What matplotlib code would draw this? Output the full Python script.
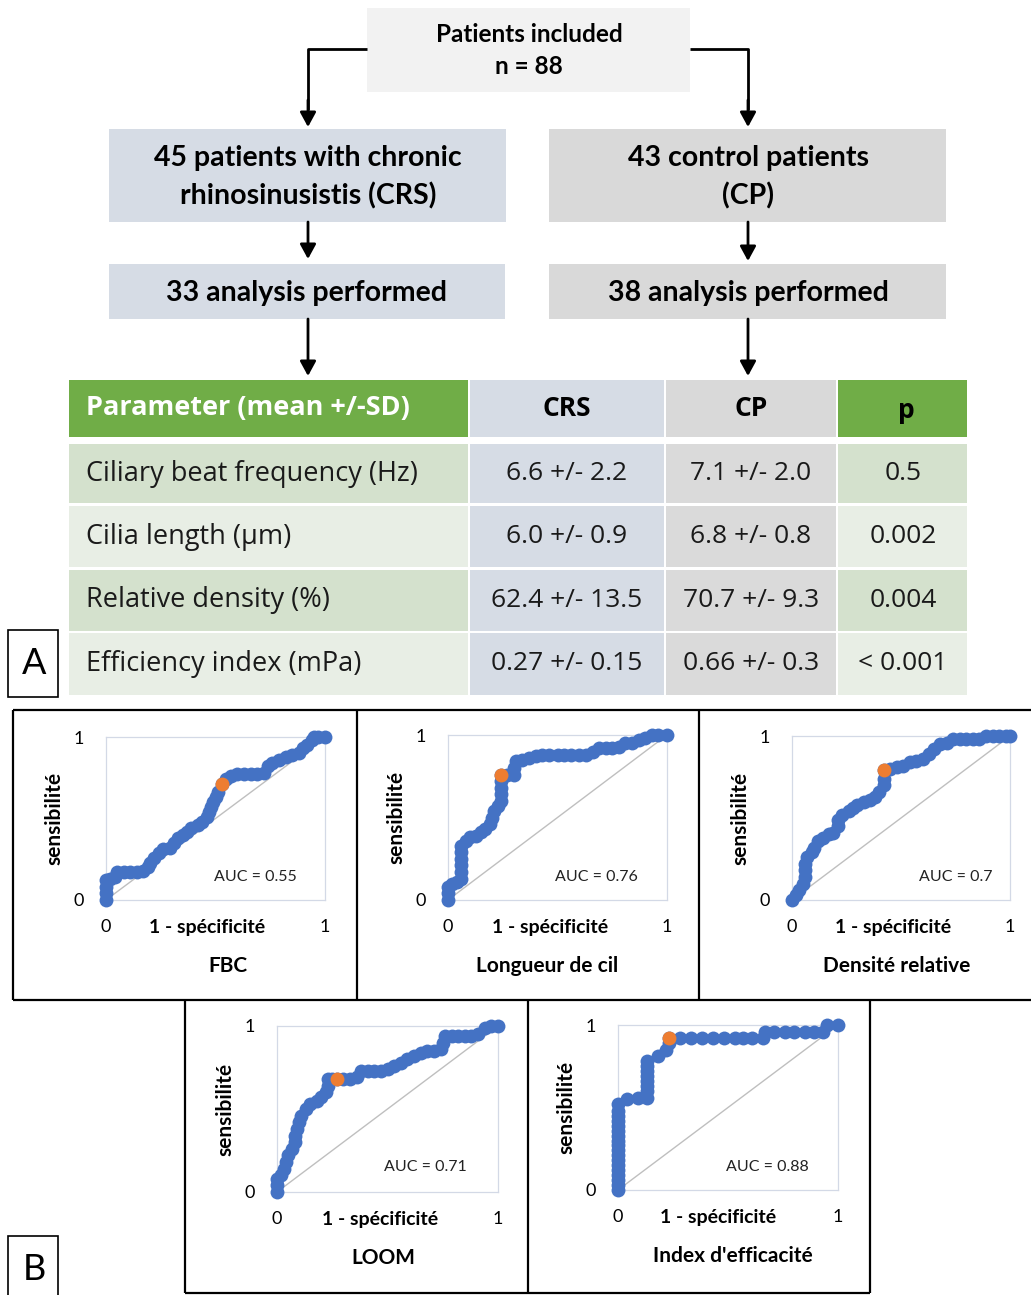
import matplotlib
matplotlib.use("Agg")
import matplotlib.pyplot as plt
from matplotlib.patches import Rectangle, FancyArrowPatch
from matplotlib.lines import Line2D

# ---------------- data ----------------
flow_top = ["Patients included", "n = 88"]
flow_groups = ["45 patients with chronic\nrhinosinusistis (CRS)", "43 control patients\n(CP)"]
flow_analysis = ["33 analysis performed", "38 analysis performed"]

table_header = ["Parameter (mean +/-SD)", "CRS", "CP", "p"]
table_params = ["Ciliary beat frequency (Hz)", "Cilia length (\u00b5m)",
                "Relative density (%)", "Efficiency index (mPa)"]
table_crs = ["6.6 +/- 2.2", "6.0 +/- 0.9", "62.4 +/- 13.5", "0.27 +/- 0.15"]
table_cp = ["7.1 +/- 2.0", "6.8 +/- 0.8", "70.7 +/- 9.3", "0.66 +/- 0.3"]
table_p = ["0.5", "0.002", "0.004", "< 0.001"]

roc_titles = ["FBC", "Longueur de cil", "Densit\u00e9 relative", "LOOM", "Index d'efficacit\u00e9"]
roc_auc = ["AUC = 0.55", "AUC = 0.76", "AUC = 0.7", "AUC = 0.71", "AUC = 0.88"]

fbc_fpr = [0, 0, 0, 0, 0.02, 0.04, 0.05, 0.08, 0.11, 0.14, 0.17, 0.19, 0.2, 0.22, 0.24, 0.26, 0.29,
           0.31, 0.33, 0.35, 0.37, 0.39, 0.42, 0.44, 0.46, 0.47, 0.48, 0.49, 0.5, 0.51, 0.53, 0.55,
           0.57, 0.6, 0.63, 0.66, 0.69, 0.72, 0.74, 0.76, 0.79, 0.82, 0.85, 0.88, 0.9, 0.92, 0.94,
           0.95, 0.97, 1.0]
fbc_tpr = [0, 0.04, 0.08, 0.12, 0.13, 0.14, 0.17, 0.17, 0.17, 0.17, 0.18, 0.2, 0.23, 0.26, 0.29,
           0.31, 0.32, 0.35, 0.38, 0.4, 0.42, 0.44, 0.46, 0.48, 0.51, 0.54, 0.57, 0.6, 0.63, 0.66,
           0.71, 0.74, 0.76, 0.77, 0.77, 0.77, 0.77, 0.78, 0.82, 0.84, 0.86, 0.88, 0.89, 0.9, 0.93,
           0.95, 0.98, 1.0, 1.0, 1.0]

lc_fpr = [0, 0, 0, 0.02, 0.04, 0.06, 0.06, 0.06, 0.06, 0.06, 0.06, 0.08, 0.1, 0.13, 0.15, 0.17,
          0.19, 0.2, 0.21, 0.23, 0.24, 0.24, 0.24, 0.24, 0.24, 0.27, 0.3, 0.3, 0.31, 0.34, 0.37,
          0.4, 0.43, 0.46, 0.5, 0.53, 0.56, 0.6, 0.63, 0.66, 0.69, 0.72, 0.75, 0.78, 0.81, 0.84,
          0.87, 0.9, 0.93, 0.96, 1.0]
lc_tpr = [0, 0.04, 0.08, 0.1, 0.11, 0.13, 0.17, 0.21, 0.25, 0.29, 0.33, 0.36, 0.38, 0.39, 0.41,
          0.43, 0.46, 0.5, 0.54, 0.57, 0.6, 0.64, 0.68, 0.72, 0.76, 0.76, 0.76, 0.8, 0.84, 0.85,
          0.86, 0.87, 0.88, 0.88, 0.88, 0.88, 0.88, 0.88, 0.88, 0.9, 0.92, 0.92, 0.92, 0.93, 0.95,
          0.95, 0.97, 0.98, 1.0, 1.0, 1.0]

dr_fpr = [0, 0.02, 0.03, 0.05, 0.06, 0.06, 0.06, 0.07, 0.09, 0.1, 0.12, 0.14, 0.17, 0.19, 0.21,
          0.21, 0.23, 0.26, 0.28, 0.3, 0.33, 0.36, 0.38, 0.4, 0.42, 0.42, 0.42, 0.45, 0.48, 0.51,
          0.54, 0.57, 0.6, 0.63, 0.65, 0.68, 0.71, 0.74, 0.77, 0.8, 0.83, 0.86, 0.89, 0.92, 0.95,
          0.98, 1.0]
dr_tpr = [0, 0.03, 0.06, 0.1, 0.14, 0.18, 0.22, 0.26, 0.29, 0.32, 0.36, 0.38, 0.4, 0.41, 0.45,
          0.49, 0.52, 0.54, 0.56, 0.58, 0.6, 0.61, 0.63, 0.66, 0.7, 0.74, 0.79, 0.8, 0.81, 0.82,
          0.84, 0.85, 0.86, 0.89, 0.92, 0.95, 0.96, 0.98, 0.98, 0.98, 0.98, 0.98, 1.0, 1.0, 1.0,
          1.0, 1.0]

loom_fpr = [0, 0, 0, 0.02, 0.03, 0.04, 0.05, 0.07, 0.08, 0.08, 0.09, 0.1, 0.11, 0.13, 0.15, 0.18,
            0.2, 0.22, 0.23, 0.23, 0.25, 0.27, 0.3, 0.33, 0.36, 0.38, 0.41, 0.44, 0.47, 0.5, 0.53,
            0.56, 0.59, 0.62, 0.65, 0.68, 0.71, 0.74, 0.75, 0.76, 0.79, 0.82, 0.85, 0.88, 0.91,
            0.94, 0.97, 1.0]
loom_tpr = [0, 0.04, 0.08, 0.1, 0.14, 0.18, 0.22, 0.26, 0.3, 0.34, 0.38, 0.42, 0.46, 0.5, 0.53,
            0.55, 0.57, 0.6, 0.64, 0.68, 0.68, 0.68, 0.68, 0.68, 0.69, 0.73, 0.73, 0.73, 0.73,
            0.74, 0.76, 0.78, 0.8, 0.82, 0.84, 0.85, 0.85, 0.86, 0.9, 0.94, 0.94, 0.94, 0.94, 0.94,
            0.95, 0.99, 1.0, 1.0]

ie_fpr = [0, 0, 0, 0, 0, 0, 0, 0, 0, 0, 0, 0, 0, 0, 0, 0, 0, 0, 0.04, 0.09, 0.13, 0.13, 0.13,
          0.13, 0.13, 0.13, 0.13, 0.13, 0.18, 0.22, 0.23, 0.23, 0.28, 0.33, 0.38, 0.43, 0.48, 0.53,
          0.57, 0.61, 0.66, 0.67, 0.71, 0.76, 0.8, 0.85, 0.89, 0.93, 0.95, 1.0]
ie_tpr = [0, 0.03, 0.06, 0.09, 0.12, 0.15, 0.18, 0.21, 0.24, 0.27, 0.3, 0.33, 0.36, 0.39, 0.42,
          0.45, 0.48, 0.52, 0.55, 0.56, 0.56, 0.6, 0.63, 0.66, 0.69, 0.72, 0.75, 0.78, 0.81, 0.85,
          0.89, 0.92, 0.92, 0.92, 0.92, 0.92, 0.92, 0.92, 0.92, 0.92, 0.92, 0.96, 0.96, 0.96, 0.96,
          0.96, 0.96, 0.96, 1.0, 1.0]

# optimal cut-off points (orange)
opt_fpr = [0.53, 0.24, 0.42, 0.27, 0.23]
opt_tpr = [0.71, 0.76, 0.79, 0.68, 0.92]

roc_fpr = [fbc_fpr, lc_fpr, dr_fpr, loom_fpr, ie_fpr]
roc_tpr = [fbc_tpr, lc_tpr, dr_tpr, loom_tpr, ie_tpr]

# ---------------- layout helpers ----------------
W, H = 1031, 1295
fig = plt.figure(figsize=(W / 100, H / 100), dpi=100)
FONT = "Lato"
TFONT = "Open Sans"


def fx(x):
    return x / W


def fy(y):
    return 1 - y / H


def rect(x0, y0, x1, y1, fc, ec="none", lw=0):
    fig.add_artist(Rectangle((fx(x0), fy(y1)), (x1 - x0) / W, (y1 - y0) / H,
                             transform=fig.transFigure, facecolor=fc, edgecolor=ec,
                             linewidth=lw))


def line(xs, ys, lw=2.0, color="black"):
    fig.add_artist(Line2D([fx(v) for v in xs], [fy(v) for v in ys],
                          transform=fig.transFigure, color=color, lw=lw,
                          solid_capstyle="butt"))


def arrow(x, y0, y1):
    fig.add_artist(FancyArrowPatch((fx(x), fy(y0)), (fx(x), fy(y1)),
                                   transform=fig.transFigure,
                                   arrowstyle="-|>,head_length=0.55,head_width=0.3",
                                   mutation_scale=16, lw=2, color="black",
                                   shrinkA=0, shrinkB=0))


def text(x, y, s, size, ha="center", weight="normal", color="black", family=FONT, **kw):
    fig.text(fx(x), fy(y), s, ha=ha, va="center", fontsize=size, fontweight=weight,
             color=color, family=family, **kw)


# ---------------- flowchart ----------------
rect(367, 8, 690, 92, "#f2f2f2")
text(529, 34, flow_top[0], 17.5, weight="bold")
text(529, 67, flow_top[1], 17.5, weight="bold")

rect(109, 129, 506, 222, "#d6dce5")
rect(549, 129, 946, 222, "#d9d9d9")
text(308, 177, flow_groups[0], 20.5, weight="bold", linespacing=1.5)
text(748, 177, flow_groups[1], 20.5, weight="bold", linespacing=1.5)

rect(109, 264, 505, 319, "#d6dce5")
rect(549, 264, 946, 319, "#d9d9d9")
text(307, 293, flow_analysis[0], 20.5, weight="bold")
text(748, 293, flow_analysis[1], 20.5, weight="bold")

line([367, 308, 308], [49, 49, 110])
line([690, 748, 748], [49, 49, 110])
arrow(308, 100, 127)
arrow(748, 100, 127)
arrow(308, 222, 259)
arrow(748, 222, 261)
arrow(308, 319, 376)
arrow(748, 319, 376)

# ---------------- table ----------------
col_x = [(69, 468), (470, 664), (666, 836), (838, 967)]
row_y = [(380, 437), (444, 503), (506, 567), (570, 631), (633, 695)]
GREEN = "#70ad47"
green_rows = ["#d4e1cd", "#e8eee5", "#d4e1cd", "#e8eee5"]
rect(col_x[0][0], row_y[0][0], col_x[0][1], row_y[0][1], GREEN)
rect(col_x[1][0], row_y[0][0], col_x[1][1], row_y[0][1], "#d6dce5")
rect(col_x[2][0], row_y[0][0], col_x[2][1], row_y[0][1], "#d9d9d9")
rect(col_x[3][0], row_y[0][0], col_x[3][1], row_y[0][1], GREEN)
text(86, 408, table_header[0], 19.5, ha="left", weight="bold", color="white", family=TFONT)
text(567, 408, table_header[1], 19, weight="bold", family=TFONT)
text(751, 408, table_header[2], 19, weight="bold", family=TFONT)
text(906, 410, table_header[3], 19, weight="bold", family=TFONT)

for i in range(4):
    y0, y1 = row_y[i + 1]
    yc = (y0 + y1) / 2
    rect(col_x[0][0], y0, col_x[0][1], y1, green_rows[i])
    rect(col_x[1][0], y0, col_x[1][1], y1, "#d6dce5")
    rect(col_x[2][0], y0, col_x[2][1], y1, "#dadada")
    rect(col_x[3][0], y0, col_x[3][1], y1, green_rows[i])
    text(86, yc, table_params[i], 19.5, ha="left", family=TFONT, color="#1a1a1a")
    text(567, yc, table_crs[i], 19, family=TFONT, color="#1a1a1a")
    text(751, yc, table_cp[i], 19, family=TFONT, color="#1a1a1a")
    text(903, yc, table_p[i], 19, family=TFONT, color="#1a1a1a")

# panel letters
rect(8, 630, 58, 697, "white", ec="black", lw=1.2)
text(34, 664, "A", 26, family=FONT)
rect(8, 1236, 58, 1300, "white", ec="black", lw=1.2)
text(34, 1270, "B", 26, family=FONT)

# ---------------- panel B frames ----------------
line([13, 1031], [710, 710], lw=1.6)
line([13, 1031], [1000, 1000], lw=1.6)
line([13, 13], [710, 1000], lw=1.6)
line([357, 357], [710, 1000], lw=1.6)
line([699, 699], [710, 1000], lw=1.6)
line([185, 870], [1293, 1293], lw=1.6)
line([185, 185], [1000, 1293], lw=1.6)
line([528, 528], [1000, 1293], lw=1.6)
line([870, 870], [1000, 1293], lw=1.6)

# ROC axes positions (pixels: left, top, right, bottom)
ax_px = [(106, 737, 325, 900), (448, 735, 667, 900), (792, 736, 1010, 900),
         (277, 1026, 498, 1192), (618, 1025, 838, 1190)]
xlab_dx = [101, 102, 101, 103, 100]
title_dx = [122, 99, 105, 106, 115]
auc_pos = [(0.68, 0.14), (0.68, 0.14), (0.75, 0.14), (0.67, 0.15), (0.68, 0.14)]

for k in range(5):
    l, t, r, b = ax_px[k]
    ax = fig.add_axes([fx(l), fy(b), (r - l) / W, (b - t) / H])
    ax.set_xlim(0, 1)
    ax.set_ylim(0, 1)
    for s in ax.spines.values():
        s.set_color("#d3d9e6")
        s.set_linewidth(0.9)
    ax.plot([0, 1], [0, 1], color="#bfbfbf", lw=1.0, zorder=1)
    ax.plot(roc_fpr[k], roc_tpr[k], "o", color="#4472c4", ms=10, mec="none",
            clip_on=False, zorder=3)
    ax.plot([opt_fpr[k]], [opt_tpr[k]], "o", color="#ed7d31", ms=10, mec="none",
            clip_on=False, zorder=4)
    ax.set_xticks([0, 1])
    ax.set_yticks([0, 1])
    ax.set_xticklabels(["0", "1"], family=FONT, fontsize=13)
    ax.set_yticklabels(["0", "1"], family=FONT, fontsize=13)
    ax.tick_params(length=0)
    ax.tick_params(axis="y", pad=16)
    ax.tick_params(axis="x", pad=14)
    w = r - l
    hgt = b - t
    ax.text(xlab_dx[k] / w, -28 / hgt, "1 - sp\u00e9cificit\u00e9", transform=ax.transAxes,
            ha="center", va="center", fontsize=14, fontweight="bold", family=FONT)
    ax.text(title_dx[k] / w, -66 / hgt, roc_titles[k], transform=ax.transAxes,
            ha="center", va="center", fontsize=15, fontweight="bold", family=FONT)
    ax.text(-52 / w, 0.5, "sensibilit\u00e9", transform=ax.transAxes, rotation=90,
            ha="center", va="center", fontsize=15, fontweight="bold", family=FONT)
    ax.text(auc_pos[k][0], auc_pos[k][1], roc_auc[k], transform=ax.transAxes,
            ha="center", va="center", fontsize=11.5, family=FONT, color="#222222")

fig.savefig("out.png", dpi=100)
